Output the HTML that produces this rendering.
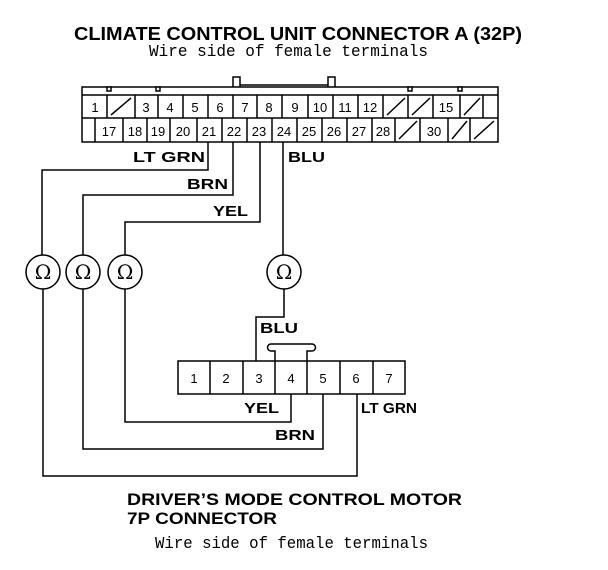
<!DOCTYPE html>
<html><head><style>html,body{margin:0;padding:0;background:#fff}svg{display:block}</style></head>
<body>
<svg width="608" height="570" viewBox="0 0 608 570" xmlns="http://www.w3.org/2000/svg">
<g font-family="Liberation Sans, sans-serif" font-weight="bold" fill="#000">
<text x="74" y="40" font-size="18" textLength="448" lengthAdjust="spacingAndGlyphs">CLIMATE CONTROL UNIT CONNECTOR A (32P)</text>
<text x="127" y="505" font-size="17" textLength="335" lengthAdjust="spacingAndGlyphs">DRIVER’S MODE CONTROL MOTOR</text>
<text x="127" y="524" font-size="17" textLength="150" lengthAdjust="spacingAndGlyphs">7P CONNECTOR</text>
<g font-size="15">
<text x="133" y="162" textLength="72" lengthAdjust="spacingAndGlyphs">LT GRN</text>
<text x="187" y="189" textLength="41" lengthAdjust="spacingAndGlyphs">BRN</text>
<text x="213" y="216" textLength="35" lengthAdjust="spacingAndGlyphs">YEL</text>
<text x="288" y="162" textLength="37" lengthAdjust="spacingAndGlyphs">BLU</text>
<text x="260" y="333" textLength="38" lengthAdjust="spacingAndGlyphs">BLU</text>
<text x="244" y="413" textLength="35" lengthAdjust="spacingAndGlyphs">YEL</text>
<text x="275" y="440" textLength="40" lengthAdjust="spacingAndGlyphs">BRN</text>
<text x="361" y="413" textLength="56" lengthAdjust="spacingAndGlyphs">LT GRN</text>
</g>
</g>
<g font-family="Liberation Mono, monospace" fill="#000" font-size="17">
<text x="149" y="56" textLength="279" lengthAdjust="spacingAndGlyphs">Wire side of female terminals</text>
<text x="155" y="548" textLength="273" lengthAdjust="spacingAndGlyphs">Wire side of female terminals</text>
</g>
<g stroke="#000" stroke-width="1.5" fill="none">
<!-- top connector -->
<rect x="82" y="87" width="416" height="55"/>
<line x1="82" y1="95" x2="498" y2="95"/>
<line x1="82" y1="118" x2="498" y2="118"/>
<rect x="107" y="87" width="4" height="4" fill="#fff"/>
<rect x="156" y="87" width="4" height="4" fill="#fff"/>
<rect x="408" y="87" width="4" height="4" fill="#fff"/>
<rect x="458" y="87" width="4" height="4" fill="#fff"/>
<path d="M233 87 V77 H240 V87 M328 87 V77 H335 V87 M240 85 H328"/>
<path d="M107 95V118M135 95V118M158 95V118M183 95V118M208 95V118M233 95V118M257 95V118M282 95V118M308 95V118M333 95V118M358 95V118M383 95V118M408 95V118M433 95V118M460 95V118M483 95V118"/>
<path d="M95 118V142M123 118V142M147 118V142M170 118V142M197 118V142M222 118V142M247 118V142M272 118V142M297 118V142M322 118V142M347 118V142M372 118V142M395 118V142M420 118V142M448 118V142M470 118V142"/>
<path d="M111 115L131 98M387 115L405 98M412 115L430 98M464 115L480 98M399 139L417 121M452 139L467 121M474 139L494 121"/>
<!-- wires top -->
<path d="M208 142V170H42V255"/>
<path d="M233 142V195H83V255"/>
<path d="M260 142V222H125V255"/>
<path d="M283 142V255"/>
<circle cx="43" cy="272" r="17"/>
<circle cx="83" cy="272" r="17"/>
<circle cx="125" cy="272" r="17"/>
<circle cx="284" cy="272" r="17"/>
<path d="M43 289V476H357V394"/>
<path d="M83 289V449H323V394"/>
<path d="M125 289V422H291V394"/>
<path d="M284 289V317H256V361"/>
<!-- bottom connector -->
<rect x="178" y="361" width="227" height="33"/>
<path d="M210 361V394M243 361V394M275 361V394M307 361V394M340 361V394M373 361V394"/>
<path d="M275 361V351H271A3.5 3.5 0 0 1 271 344H312A3.5 3.5 0 0 1 312 351H307V361"/>
</g>
<g font-family="Liberation Sans, sans-serif" font-size="13" fill="#000" text-anchor="middle">
<text x="95" y="112">1</text><text x="146" y="112">3</text><text x="170" y="112">4</text><text x="195" y="112">5</text><text x="220" y="112">6</text><text x="245" y="112">7</text><text x="269" y="112">8</text><text x="295" y="112">9</text><text x="320" y="112">10</text><text x="345" y="112">11</text><text x="370" y="112">12</text><text x="446" y="112">15</text>
<text x="109" y="136">17</text><text x="135" y="136">18</text><text x="158" y="136">19</text><text x="183" y="136">20</text><text x="209" y="136">21</text><text x="234" y="136">22</text><text x="259" y="136">23</text><text x="284" y="136">24</text><text x="309" y="136">25</text><text x="334" y="136">26</text><text x="359" y="136">27</text><text x="383" y="136">28</text><text x="434" y="136">30</text>
<text x="194" y="383">1</text><text x="226" y="383">2</text><text x="259" y="383">3</text><text x="291" y="383">4</text><text x="323" y="383">5</text><text x="356" y="383">6</text><text x="389" y="383">7</text>
</g>
<g font-family="DejaVu Serif, serif" font-size="20" fill="#000" text-anchor="middle">
<text x="43" y="279">Ω</text><text x="83" y="279">Ω</text><text x="125" y="279">Ω</text><text x="284" y="279">Ω</text>
</g>
</svg>
</body></html>
